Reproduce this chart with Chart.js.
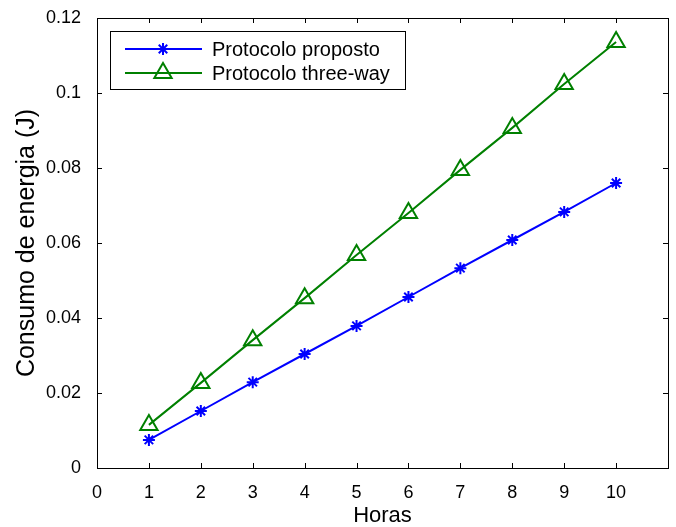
<!DOCTYPE html>
<html>
<head>
<meta charset="utf-8">
<script src="https://cdn.jsdelivr.net/npm/chart.js@4/dist/chart.umd.min.js"></script>
<style>
  html, body { margin: 0; padding: 0; background: #fff; }
  #wrap { width: 676px; height: 527px; }
</style>
</head>
<body>
<div id="wrap"><canvas id="myChart" width="676" height="527"></canvas></div>
<script>
// data
const horas = [1, 2, 3, 4, 5, 6, 7, 8, 9, 10];
const proposto = [0.0075, 0.0152, 0.0229, 0.0304, 0.0379, 0.0456, 0.0533, 0.0608, 0.0683, 0.0760];
const threeWay = [0.0115, 0.0227, 0.0341, 0.0453, 0.0568, 0.0680, 0.0795, 0.0907, 0.1024, 0.1136];
const xTicks = [0, 1, 2, 3, 4, 5, 6, 7, 8, 9, 10];
const yTicks = [0, 0.02, 0.04, 0.06, 0.08, 0.1, 0.12];
const yTickLabels = ['0', '0.02', '0.04', '0.06', '0.08', '0.1', '0.12'];

const FONT = 'Liberation Sans, Arial, Helvetica, sans-serif';

function points(ys) {
    return horas.map(function(h, i) { return { x: h, y: ys[i] }; });
}

// box + inward ticks like matlab
const boxPlugin = {
    id: 'box',
    afterDraw: function(chart) {
        const c = chart.ctx;
        const a = chart.chartArea;
        const xs = chart.scales.x, ys = chart.scales.y;
        const len = 5;
        c.save();
        c.strokeStyle = '#000';
        c.lineWidth = 1;
        c.beginPath();
        xTicks.forEach(function(v) {
            const px = Math.round(xs.getPixelForValue(v)) + 0.5;
            c.moveTo(px, a.bottom); c.lineTo(px, a.bottom - len);
            c.moveTo(px, a.top); c.lineTo(px, a.top + len);
        });
        yTicks.forEach(function(v) {
            const py = Math.round(ys.getPixelForValue(v)) + 0.5;
            c.moveTo(a.left, py); c.lineTo(a.left + len, py);
            c.moveTo(a.right, py); c.lineTo(a.right - len, py);
        });
        c.stroke();
        c.strokeRect(Math.round(a.left) + 0.5, Math.round(a.top) + 0.5,
            Math.round(a.right - a.left), Math.round(a.bottom - a.top));
        c.restore();
    }
};

// legend box with line + marker samples
const legendPlugin = {
    id: 'matlabLegend',
    afterDraw: function(chart) {
        const c = chart.ctx;
        const bx = 110, by = 31, bw = 295, bh = 58;
        c.save();
        c.fillStyle = '#fff';
        c.fillRect(bx, by, bw, bh);
        c.strokeStyle = '#000';
        c.lineWidth = 1;
        c.strokeRect(bx + 0.5, by + 0.5, bw, bh);
        chart.data.datasets.forEach(function(ds, i) {
            const y = by + 18 + i * 24;
            c.strokeStyle = ds.borderColor;
            c.lineWidth = 2;
            c.beginPath();
            c.moveTo(125, y); c.lineTo(202, y);
            c.stroke();
            c.fillStyle = 'rgba(0,0,0,0)';
            Chart.helpers.drawPoint(c, {
                pointStyle: ds.pointStyle,
                radius: ds.pointRadius,
                borderWidth: ds.pointBorderWidth
            }, 163, y);
            c.fillStyle = '#000';
            c.font = '20px ' + FONT;
            c.textBaseline = 'middle';
            c.fillText(ds.label, 212, y + 1);
        });
        c.restore();
    }
};

const ctx = document.getElementById('myChart').getContext('2d');
const chart = new Chart(ctx, {
    type: 'line',
    data: {
        datasets: [{
                label: 'Protocolo proposto',
                data: points(proposto),
                borderColor: '#0000ff',
                backgroundColor: 'rgba(0,0,0,0)',
                borderWidth: 2,
                pointStyle: 'star',
                pointRadius: 6,
                pointBorderWidth: 2,
                pointBorderColor: '#0000ff',
                pointBackgroundColor: 'rgba(0,0,0,0)',
                tension: 0
            },
            {
                label: 'Protocolo three-way',
                data: points(threeWay),
                borderColor: '#008000',
                backgroundColor: 'rgba(0,0,0,0)',
                borderWidth: 2,
                pointStyle: 'triangle',
                pointRadius: 10,
                pointBorderWidth: 2,
                pointBorderColor: '#008000',
                pointBackgroundColor: 'rgba(0,0,0,0)',
                tension: 0
            }
        ]
    },
    options: {
        responsive: false,
        animation: false,
        layout: { autoPadding: false, padding: { top: 18, right: 8, left: 0, bottom: 0 } },
        plugins: {
            legend: { display: false },
            tooltip: { enabled: false }
        },
        scales: {
            x: {
                type: 'linear',
                min: 0,
                max: 11,
                grid: { display: false },
                border: { display: false },
                afterBuildTicks: function(scale) {
                    scale.ticks = xTicks.map(function(v) { return { value: v }; });
                },
                afterFit: function(scale) {
                    scale.height = 59;
                    scale.paddingLeft = 0;
                    scale.paddingRight = 0;
                },
                ticks: {
                    color: '#000',
                    font: { family: FONT, size: 18 },
                    padding: 6,
                    maxRotation: 0,
                    autoSkip: false
                },
                title: {
                    display: true,
                    text: 'Horas',
                    color: '#000',
                    font: { family: FONT, size: 22, lineHeight: 1 },
                    padding: { top: 0, bottom: 0 }
                }
            },
            y: {
                type: 'linear',
                min: 0,
                max: 0.12,
                grid: { display: false },
                border: { display: false },
                afterBuildTicks: function(scale) {
                    scale.ticks = yTicks.map(function(v) { return { value: v }; });
                },
                afterFit: function(scale) {
                    scale.width = 97;
                    scale.paddingTop = 0;
                    scale.paddingBottom = 0;
                },
                ticks: {
                    color: '#000',
                    font: { family: FONT, size: 18 },
                    padding: 8,
                    autoSkip: false,
                    callback: function(value) {
                        const i = yTicks.findIndex(function(t) { return Math.abs(t - value) < 1e-9; });
                        return i >= 0 ? yTickLabels[i] : '';
                    }
                },
                title: {
                    display: true,
                    text: 'Consumo de energia (J)',
                    color: '#000',
                    font: { family: FONT, size: 25, lineHeight: 1 },
                    padding: { top: 15, bottom: 0 }
                }
            }
        }
    },
    plugins: [boxPlugin, legendPlugin]
});
</script>
</body>
</html>
